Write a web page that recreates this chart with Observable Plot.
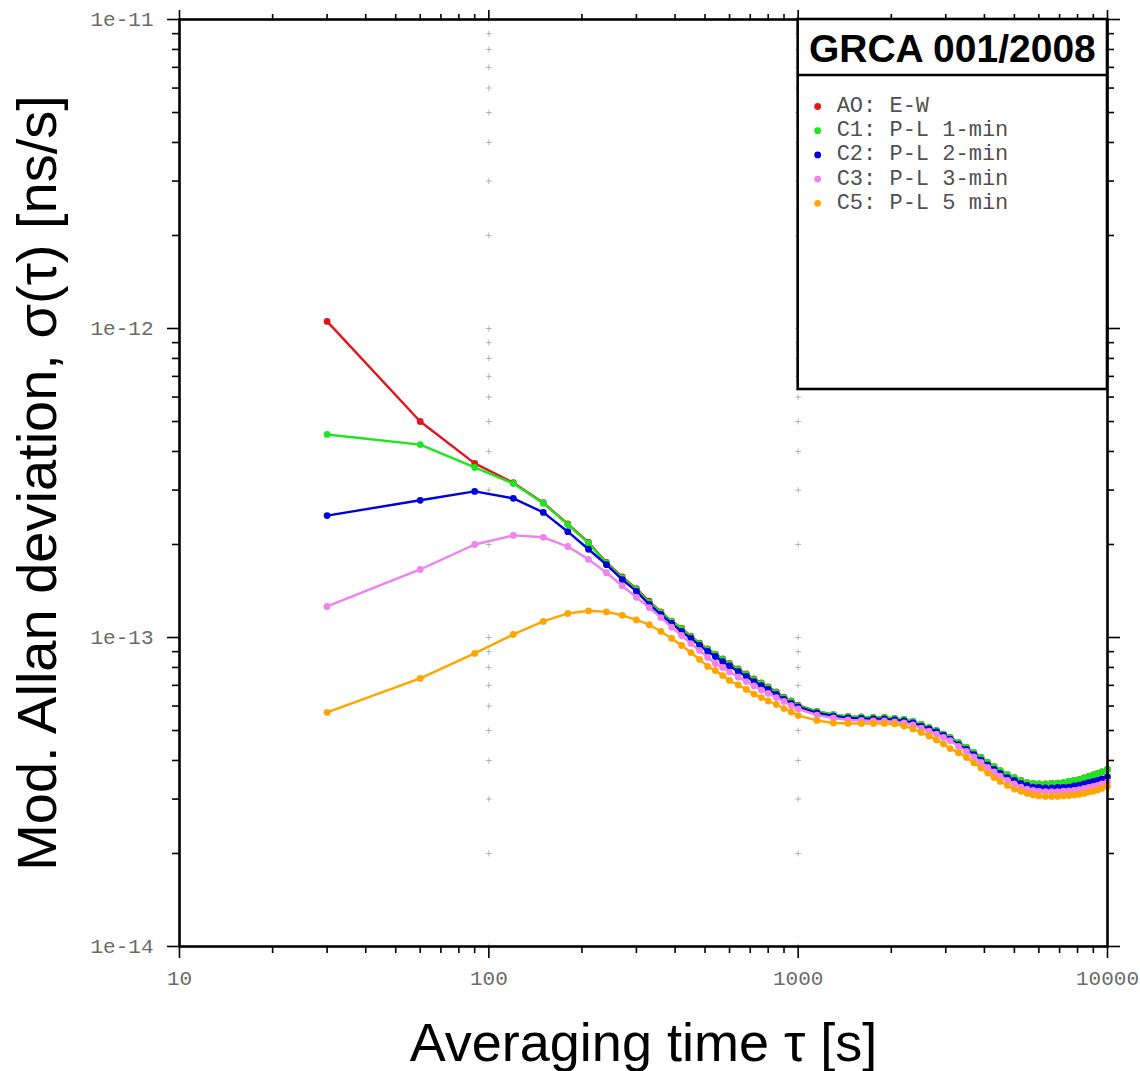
<!DOCTYPE html>
<html>
<head>
<meta charset="utf-8">
<script src="https://cdn.jsdelivr.net/npm/d3@7"></script>
<script src="https://cdn.jsdelivr.net/npm/@observablehq/plot@0.6"></script>
<style>
  body { margin: 0; background: #fff; }
  #wrap { position: relative; width: 1140px; height: 1071px; }
  #legend { position: absolute; left: 0; top: 0; pointer-events: none; }
</style>
</head>
<body>
<div id="wrap"></div>
<script>
// Averaging times tau [s]
const tau = [
  30, 60, 90, 120, 150, 180, 210, 240, 270, 300,
  330, 360, 390, 420, 450, 480, 510, 540, 570, 600,
  640, 680, 720, 760, 800, 850, 900, 950, 1000, 1150,
  1300, 1450, 1600, 1750, 1900, 2050, 2200, 2350, 2500, 2650,
  2800, 2950, 3100, 3300, 3500, 3700, 3900, 4100, 4300, 4500,
  4750, 5000, 5250, 5500, 5750, 6000, 6300, 6600, 6900, 7200,
  7500, 7800, 8100, 8400, 8700, 9000, 9300, 9600, 10000
];
// Mod. Allan deviation, in units of 1e-14
const unit = 1e-14;
const AO = [
  105.4, 50.0, 36.6, 31.7, 27.3, 23.3, 20.3, 17.5, 15.7, 14.4,
  13.1, 12.1, 11.3, 10.72, 10.1, 9.59, 9.18, 8.84, 8.52, 8.24,
  7.91, 7.62, 7.34, 7.13, 6.92, 6.67, 6.41, 6.23, 6.04, 5.77,
  5.63, 5.55, 5.53, 5.51, 5.51, 5.47, 5.43, 5.35, 5.23, 5.11,
  5.00, 4.87, 4.75, 4.57, 4.41, 4.24, 4.09, 3.94, 3.82, 3.71,
  3.60, 3.52, 3.45, 3.39, 3.37, 3.36, 3.36, 3.37, 3.38, 3.39,
  3.42, 3.45, 3.47, 3.51, 3.55, 3.59, 3.63, 3.67, 3.74
];
const C1 = [
  45.4, 42.1, 35.5, 31.5, 27.2, 23.2, 20.2, 17.4, 15.6, 14.3,
  13.0, 12.05, 11.27, 10.69, 10.07, 9.56, 9.15, 8.81, 8.49, 8.21,
  7.88, 7.59, 7.31, 7.10, 6.89, 6.64, 6.39, 6.21, 6.02, 5.76,
  5.63, 5.55, 5.53, 5.51, 5.51, 5.47, 5.43, 5.35, 5.23, 5.11,
  5.00, 4.87, 4.75, 4.57, 4.41, 4.24, 4.09, 3.94, 3.82, 3.71,
  3.60, 3.52, 3.45, 3.39, 3.37, 3.36, 3.36, 3.37, 3.38, 3.39,
  3.42, 3.45, 3.47, 3.51, 3.55, 3.59, 3.63, 3.67, 3.74
];
const C2 = [
  24.8, 27.8, 29.7, 28.2, 25.4, 22.0, 19.3, 17.2, 15.4, 14.1,
  12.8, 11.87, 11.10, 10.46, 9.93, 9.42, 9.01, 8.68, 8.36, 8.09,
  7.76, 7.48, 7.20, 6.99, 6.79, 6.54, 6.30, 6.12, 5.96, 5.70,
  5.57, 5.49, 5.47, 5.45, 5.45, 5.41, 5.37, 5.29, 5.17, 5.06,
  4.95, 4.82, 4.69, 4.50, 4.34, 4.18, 4.01, 3.87, 3.74, 3.63,
  3.52, 3.45, 3.37, 3.32, 3.28, 3.27, 3.26, 3.26, 3.27, 3.27,
  3.28, 3.31, 3.33, 3.36, 3.39, 3.42, 3.45, 3.48, 3.54
];
const C3 = [
  12.6, 16.6, 20.0, 21.4, 21.1, 19.7, 17.9, 16.2, 14.7, 13.5,
  12.5, 11.6, 10.8, 10.15, 9.56, 9.08, 8.62, 8.24, 8.00, 7.73,
  7.45, 7.20, 6.97, 6.76, 6.59, 6.39, 6.21, 6.02, 5.87, 5.61,
  5.49, 5.41, 5.39, 5.37, 5.37, 5.33, 5.29, 5.21, 5.09, 4.98,
  4.87, 4.75, 4.64, 4.44, 4.28, 4.11, 3.94, 3.80, 3.67, 3.56,
  3.45, 3.36, 3.28, 3.23, 3.20, 3.18, 3.17, 3.17, 3.17, 3.18,
  3.19, 3.20, 3.22, 3.25, 3.27, 3.30, 3.32, 3.36, 3.41
];
const C5 = [
  5.72, 7.37, 8.88, 10.23, 11.27, 11.96, 12.2, 12.1, 11.8, 11.4,
  11.0, 10.46, 9.93, 9.42, 8.94, 8.49, 8.06, 7.82, 7.53, 7.26,
  7.02, 6.79, 6.56, 6.39, 6.23, 6.07, 5.89, 5.74, 5.59, 5.39,
  5.29, 5.27, 5.27, 5.27, 5.27, 5.25, 5.17, 5.06, 4.93, 4.80,
  4.66, 4.52, 4.37, 4.24, 4.09, 3.93, 3.78, 3.64, 3.52, 3.42,
  3.32, 3.23, 3.18, 3.13, 3.09, 3.07, 3.06, 3.06, 3.06, 3.07,
  3.08, 3.09, 3.11, 3.13, 3.16, 3.18, 3.21, 3.25, 3.30
];
const seriesNames = ["AO: E-W", "C1: P-L 1-min", "C2: P-L 2-min", "C3: P-L 3-min", "C5: P-L 5 min"];
const seriesValues = [AO, C1, C2, C3, C5];
const seriesColors = ["#e3141a", "#1ee61e", "#0000dc", "#ee82ee", "#ffa500"];
const legendTitle = "GRCA 001/2008";
const xTitle = "Averaging time \u03c4 [s]";
const yTitle = "Mod. Allan deviation, \u03c3(\u03c4) [ns/s]";

const xMajor = [10, 100, 1000, 10000];
const yMajor = [1e-14, 1e-13, 1e-12, 1e-11];
const minorMult = [2, 3, 4, 5, 6, 7, 8, 9];
const xMinor = xMajor.slice(0, 3).flatMap(d => minorMult.map(k => k * d));
const yMinor = yMajor.slice(0, 3).flatMap(d => minorMult.map(k => k * d));
const gridX = [100, 1000];

const W = 1140, H = 1071;
const mL = 179, mR = 33, mT = 19, mB = 125;

const seriesData = seriesNames.map((name, si) =>
  tau.map((t, i) => ({series: name, tau: t, sigma: seriesValues[si][i] * unit}))
     .filter(d => d.sigma != null && !isNaN(d.sigma)));

const crosses = gridX.flatMap(x => yMajor.concat(yMinor).map(y => ({x, y})));

const yFmt = d => "1e" + Math.round(Math.log10(d));
const xFmt = d => String(Math.round(d));
const noFmt = () => "";

const marks = [
  Plot.dot(crosses, {x: "x", y: "y", symbol: "plus", r: 2.1, stroke: "#8c8c8c", strokeWidth: 0.6})
];
seriesData.forEach((sd, si) => {
  marks.push(Plot.line(sd, {x: "tau", y: "sigma", stroke: seriesColors[si], strokeWidth: 2.4}));
  marks.push(Plot.dot(sd, {x: "tau", y: "sigma", fill: seriesColors[si], r: 3.4}));
});
const tickFont = {fontFamily: "'Liberation Mono', 'DejaVu Sans Mono', monospace", fontSize: 21, fill: "#6a6a6a", stroke: "black", strokeWidth: 1.6, label: null};
marks.push(
  Plot.frame({stroke: "black", strokeWidth: 2.6}),
  Plot.axisY(yMajor, {...tickFont, anchor: "left", tickSize: 12, tickPadding: 14, tickFormat: yFmt}),
  Plot.axisY(yMinor, {...tickFont, anchor: "left", tickSize: 7, tickFormat: noFmt}),
  Plot.axisY(yMajor, {...tickFont, anchor: "right", tickSize: 12, tickFormat: noFmt}),
  Plot.axisY(yMinor, {...tickFont, anchor: "right", tickSize: 6, tickFormat: noFmt}),
  Plot.axisX(xMajor, {...tickFont, anchor: "bottom", tickSize: 12, tickPadding: 12, tickFormat: xFmt}),
  Plot.axisX(xMinor, {...tickFont, anchor: "bottom", tickSize: 7, tickFormat: noFmt}),
  Plot.axisX(xMajor, {...tickFont, anchor: "top", tickSize: 10, tickFormat: noFmt}),
  Plot.axisX(xMinor, {...tickFont, anchor: "top", tickSize: 6, tickFormat: noFmt}),
  Plot.text([yTitle], {frameAnchor: "left", dx: -141, rotate: -90, textAnchor: "middle", lineAnchor: "middle",
    fontSize: 56, fontFamily: "'Liberation Sans', Arial, sans-serif", fill: "black"}),
  Plot.text([xTitle], {frameAnchor: "bottom", dy: 97, textAnchor: "middle", lineAnchor: "middle",
    fontSize: 54, fontFamily: "'Liberation Sans', Arial, sans-serif", fill: "black"})
);

const chart = Plot.plot({
  width: W, height: H,
  marginLeft: mL, marginRight: mR, marginTop: mT, marginBottom: mB,
  style: {background: "white", overflow: "visible"},
  x: {type: "log", domain: [10, 10000], label: null},
  y: {type: "log", domain: [1e-14, 1e-11], label: null},
  marks
});
const wrap = document.getElementById("wrap");
wrap.appendChild(chart);

// Legend box drawn over the upper right of the plot frame
const x0 = mL + (W - mL - mR) * 2 / 3; // tau = 1000 line
const x1 = W - mR;
const yTop = mT, yBot = 389, yHead = 75;
const leg = d3.select(wrap).append("svg")
  .attr("id", "legend").attr("width", W).attr("height", H);
leg.append("rect").attr("x", x0).attr("y", yTop).attr("width", x1 - x0).attr("height", yBot - yTop)
  .attr("fill", "white").attr("stroke", "black").attr("stroke-width", 2.6);
leg.append("line").attr("x1", x0).attr("x2", x1).attr("y1", yHead).attr("y2", yHead)
  .attr("stroke", "black").attr("stroke-width", 2.6);
leg.append("text").attr("x", (x0 + x1) / 2).attr("y", (yTop + yHead) / 2 + 1)
  .attr("text-anchor", "middle").attr("dominant-baseline", "central")
  .attr("font-family", "'Liberation Sans', Arial, sans-serif").attr("font-weight", "bold")
  .attr("font-size", 39).text(legendTitle);
seriesNames.forEach((name, i) => {
  const cy = 106.5 + i * 24.2;
  leg.append("circle").attr("cx", x0 + 20).attr("cy", cy).attr("r", 3.4).attr("fill", seriesColors[i]);
  leg.append("text").attr("x", x0 + 39).attr("y", cy).attr("dominant-baseline", "central")
    .attr("font-family", "'Liberation Mono', 'DejaVu Sans Mono', monospace").attr("font-size", 22)
    .attr("fill", "#505050").text(name);
});
</script>
</body>
</html>
